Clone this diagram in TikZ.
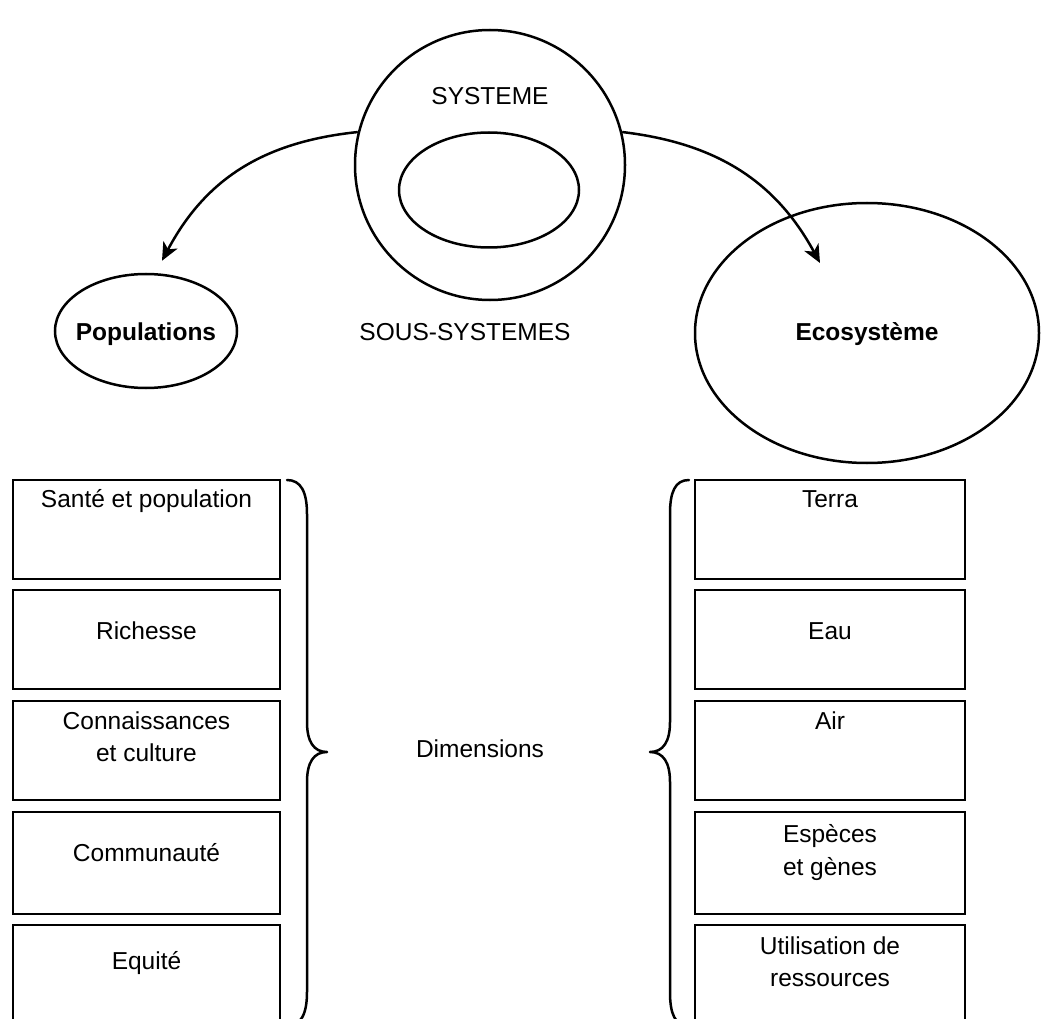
\documentclass[tikz,border=0pt]{standalone}
\usepackage{fontspec}
\setmainfont{Liberation Sans}
\usetikzlibrary{shapes.geometric,arrows.meta}
\begin{document}
\begin{tikzpicture}[x=1pt,y=-1pt,
  line width=2.5pt,
  txt/.style={anchor=base,font=\fontsize{24.5}{30}\selectfont,inner sep=0pt},
  boldtxt/.style={anchor=base,font=\fontsize{24.5}{30}\selectfont\bfseries,inner sep=0pt},
  dimbox/.style={draw,rectangle,minimum width=267pt,minimum height=99pt,inner sep=0pt,outer sep=0pt,anchor=north west},
  oval/.style={draw,ellipse,inner sep=0pt},
  ring/.style={draw,circle,inner sep=0pt},
  link/.style={-{Stealth[length=18pt,width=16pt,inset=5pt]}},
  bracket/.style={line cap=round,line join=round}
]
\useasboundingbox (0,0) rectangle (1050,1019);
\clip (0,0) rectangle (1050,1019);

% system and sub-systems
\node[ring,minimum size=270pt] (sys) at (490,165) {};
\node[oval,minimum width=180pt,minimum height=115pt] (inner) at (489,190) {};
\node[txt] (systxt) at (490,105) {SYSTEME};
\node[oval,minimum width=182pt,minimum height=114pt] (pop) at (146,331) {};
\node[boldtxt] (poptxt) at (146,340) {Populations};
\node[oval,minimum width=344pt,minimum height=260pt] (eco) at (867,333) {};
\node[boldtxt] (ecotxt) at (867,340) {Ecosystème};
\node[txt] (sous) at (465,340) {SOUS-SYSTEMES};

\draw[link] (sys.166) .. controls (262,142) and (205,180) .. ([xshift=16pt,yshift=12pt]pop.north);
\draw[link] (sys.14) .. controls (715,143) and (775,180) .. ([xshift=-47pt,yshift=70pt]eco.center);

% dimensions, human side
\node[dimbox] (l1) at (13,480) {};
\node[dimbox] (l2) at (13,590) {};
\node[dimbox] (l3) at (13,701) {};
\node[dimbox,minimum height=102pt] (l4) at (13,812) {};
\node[dimbox] (l5) at (13,925) {};
\node[txt] (l1t) at (146.5,507) {Santé et population};
\node[txt] (l2t) at (146.5,639) {Richesse};
\node[txt] (l3a) at (146.5,729) {Connaissances};
\node[txt] (l3b) at (146.5,761) {et culture};
\node[txt] (l4t) at (146.5,861) {Communauté};
\node[txt] (l5t) at (146.5,969) {Equité};

% dimensions, ecosystem side
\node[dimbox,minimum width=270pt] (r1) at (695,480) {};
\node[dimbox,minimum width=270pt] (r2) at (695,590) {};
\node[dimbox,minimum width=270pt] (r3) at (695,701) {};
\node[dimbox,minimum width=270pt,minimum height=102pt] (r4) at (695,812) {};
\node[dimbox,minimum width=270pt] (r5) at (695,925) {};
\node[txt] (r1t) at (830,507) {Terra};
\node[txt] (r2t) at (830,639) {Eau};
\node[txt] (r3t) at (830,729) {Air};
\node[txt] (r4a) at (830,842) {Espèces};
\node[txt] (r4b) at (830,875) {et gènes};
\node[txt] (r5a) at (830,954) {Utilisation de};
\node[txt] (r5b) at (830,986) {ressources};

\node[txt] (dim) at (480,757) {Dimensions};

% braces
\draw[bracket] (287,480) .. controls (301,480) and (307,492) .. (307,514)
  -- (307,722) .. controls (307,742) and (314,752) .. (327,752)
  .. controls (314,752) and (307,762) .. (307,782)
  -- (307,992) .. controls (307,1014) and (301,1026) .. (287,1026);
\draw[bracket] (689,480) .. controls (675,480) and (670,492) .. (670,514)
  -- (670,722) .. controls (670,742) and (663,752) .. (650,752)
  .. controls (663,752) and (670,762) .. (670,782)
  -- (670,992) .. controls (670,1014) and (675,1026) .. (689,1026);
\end{tikzpicture}
\end{document}
